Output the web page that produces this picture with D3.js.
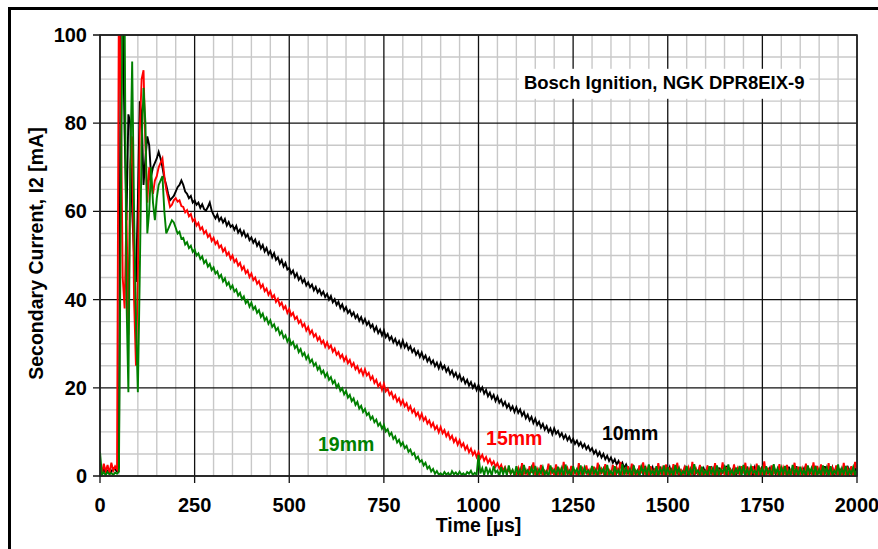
<!DOCTYPE html>
<html>
<head>
<meta charset="utf-8">
<script src="https://cdn.jsdelivr.net/npm/d3@7"></script>
<style>
  body { margin: 0; background: #fff; }
  svg text { font-family: "Liberation Sans", Arial, sans-serif; font-weight: bold; }
  .tick-label { font-size: 20px; fill: #000; }
  .axis-title { font-size: 19.5px; fill: #000; }
  .note { font-size: 18.5px; fill: #000; }
  .series-label { font-size: 19.5px; }
</style>
</head>
<body>
<div id="chart"></div>
<script>
// Secondary current vs. time, three spark-gap settings
// samples every 5 µs from 0 to 2000 µs

const sampleStep = 5; // µs between samples

const xTicks = [0, 250, 500, 750, 1000, 1250, 1500, 1750, 2000];
const yTicks = [0, 20, 40, 60, 80, 100];

const xTitle = "Time [µs]";
const yTitle = "Secondary Current, I2 [mA]";
const noteText = "Bosch Ignition, NGK DPR8EIX-9";

const seriesNames = ["10mm", "15mm", "19mm"];
const seriesColors = ["#000000", "#ff0000", "#008000"];
// where each trace label sits, in data units [time, current]
const labelAnchors = [[1326, 8.2], [1020, 7.0], [576, 5.6]];
const noteAnchor = [1120, 87.8];

const current10mm = [
  1,0.5,1.5,0.8,1.2,0.5,1,1.8,1.5,1,2,108,104,78,58,82,80,60,50,44,
  62,85,82,66,72,77,75,68,70,71,72,73.5,72,70,67.5,66,64,62.5,63,63.5,
  64.5,65.5,66,67,66,64.5,64,63,63.5,62,62.5,61.5,62,60.8,61.6,60.5,60.2,61,62,60.2,
  59.2,58.4,59.3,57.9,58.6,57.5,58.3,56.8,57.6,56.5,56.9,55.8,56.7,55.2,55.9,54.6,55.5,54.2,54.8,53.5,
  54.1,52.9,53.6,52.2,53,51.6,52.4,50.9,51.7,50.3,51,49.6,50.5,49,49.6,48.2,49,47.5,48.3,46.8,
  47.2,45.9,46.6,45.1,45.9,44.5,45.2,43.9,44.6,43.2,43.9,42.8,43.4,42.1,42.9,41.6,42.3,41.1,41.8,40.6,
  41.3,40,40.8,39.4,40.1,38.8,39.5,38.1,38.9,37.5,38.3,37,37.6,36.4,37.1,35.8,36.5,35.2,36,34.7,
  35.6,34.3,35,33.7,34.3,32.9,33.8,32.4,33.2,31.9,33,31.5,32.2,30.9,31.6,30.3,31.1,29.8,30.6,29.3,
  30.7,29.2,30,28.7,29.4,28.1,28.8,27.5,28.3,27,28,26.6,27.3,26,26.8,25.5,26.2,24.9,25.7,24.4,
  25.6,24.3,25,23.7,24.5,23.1,23.9,22.6,23.4,22.1,23,21.6,22.3,21,21.8,20.5,21.3,20,20.8,19.5,
  20.6,19.3,20.1,18.7,19.5,18.1,18.9,17.6,18.4,17,18,16.6,17.3,16,16.8,15.5,16.3,15,15.8,14.5,
  15.6,14.3,15.1,13.7,14.5,13.1,13.9,12.6,13.4,12,13,11.6,12.3,11,11.8,10.5,11.3,10,10.8,9.5,
  10.8,9.6,10.2,9,9.7,8.5,9.3,8.1,8.9,7.7,8.4,7.3,8,6.9,7.6,6.5,7.2,6.1,6.8,5.7,
  6.3,5.1,5.8,4.6,5.4,4.2,5,3.8,4.6,3.4,4.2,3,3.8,2.6,3.4,2.3,3,1.8,2.6,1.5,
  1.5,0.4,2,0.6,1.2,0.1,1.8,0.5,2.2,0.3,1,0.7,1.9,0.2,1.4,0,2.1,0.6,1.3,0.4,
  0.8,2,0.3,1.5,0.6,2.3,0.1,1.2,0.5,1.9,0,1.6,0.7,2.1,0.2,1.1,0.4,2.2,0.3,1.7,
  0.5,1.8,0.2,2.2,0.6,1.3,0,1.9,0.4,1.1,0.7,2.3,0.1,1.5,0.5,2,0.2,1.4,0.6,1.8,
  1.2,0.3,2.1,0.5,1.6,0,1.9,0.6,1.3,0.2,2.2,0.4,1.1,0.7,1.8,0.1,2.3,0.5,1.4,0,
  1.9,0.4,1.3,0.2,2.1,0.6,1.5,0,2.2,0.3,1.2,0.7,1.7,0.1,2,0.5,1.1,0.3,2.3,0.6,
  0.7,1.6,0.1,2.2,0.4,1.3,0.6,1.9,0,2.1,0.5,1.4,0.2,1.8,0.7,2.3,0.3,1.2,0.5,1.7,
  0.9
];

const current15mm = [
  2,0.5,2.8,1,2.5,0.6,3,1.2,2.2,1.5,112,85,45,38,60,32,70,77,40,25,
  45,78,90,92,75,62,70,66,64,67,68,70,71,72,68,65,63,61,61.5,62.5,
  63,62.2,62.5,61.2,61,59.8,60.3,58.9,59.4,57.8,58.3,56.8,57.4,55.9,56.4,55,55.6,54.2,54.8,53.3,
  54,52.6,53.2,51.8,52.3,50.9,51.6,50.1,50.7,49.2,50,48.5,49.1,47.7,48.3,46.8,47.5,46,46.6,45.1,
  45.9,44.4,45,43.6,44.2,42.7,43.4,41.9,42.5,41.1,41.9,40.4,41,39.5,40.2,38.7,39.3,37.9,38.5,37,
  37.9,36.4,37,35.6,36.1,34.7,35.3,33.9,34.5,33,33.8,32.3,33,31.6,32.2,30.8,31.5,30.1,30.7,29.3,
  30.3,29,29.6,28.2,28.9,27.5,28.1,26.8,27.5,26.1,27,25.6,26.3,24.9,25.6,24.2,24.9,23.5,24.2,22.9,
  24.2,22.8,23.4,21.9,22.6,21.1,21.8,20.3,21,19.5,20.9,19.2,19.8,18.4,19,17.6,18.3,16.9,17.6,16.2,
  17.2,15.8,16.5,15,15.8,14.4,15.1,13.7,14.4,13,14.1,12.6,13.3,11.9,12.6,11.2,12,10.6,11.3,9.9,
  11.1,9.7,10.4,9,9.8,8.4,9.1,7.7,8.5,7.1,8.1,6.7,7.4,6,6.8,5.4,6.2,4.8,5.6,4.3,
  5.4,4,4.8,3.5,4.3,3,3.8,2.6,3.3,2.1,2.9,1.7,2.5,1.2,2,0.8,1.6,0.5,1.3,0.4,
  0.3,1.8,0.1,2.9,0.5,1.4,0,2.2,0.7,3.1,0.2,1.6,0.4,2.5,0,1.2,0.6,2.8,0.3,1.9,
  0.1,2.6,0.4,1.5,0,3.2,0.6,1.8,0.2,2.3,0.5,1.1,0,2.9,0.3,1.7,0.7,2.4,0.1,1.4,
  0.5,2.1,0,3,0.3,1.6,0.6,2.7,0.1,1.3,0.4,2.5,0,1.9,0.7,3.2,0.2,1.5,0.5,2.2,
  0,2.8,0.4,1.2,0.1,2.4,0.6,3.1,0.3,1.7,0,2.2,0.5,1.4,0.2,2.9,0.6,1.8,0,2.6,
  0.4,1.5,0,2.7,0.2,3,0.5,1.3,0.1,2.3,0.6,1.9,0,3.2,0.3,1.6,0.4,2.5,0.1,1.2,
  0.2,2.4,0.6,1.7,0,2.9,0.3,1.4,0.5,3.1,0.1,2,0.4,1.3,0,2.6,0.7,1.8,0.2,2.2,
  0.6,3,0.1,1.6,0.4,2.2,0,2.8,0.3,1.5,0.5,3.3,0.2,1.9,0,2.4,0.6,1.2,0.3,2.7,
  0,1.9,0.5,2.5,0.2,1.3,0.6,3,0.1,2.1,0.4,1.7,0,2.8,0.3,1.4,0.5,3.1,0.2,2.3,
  0.4,2.6,0.1,1.5,0.6,2.9,0,1.8,0.3,2.4,0.5,1.2,0.2,3,0,1.7,0.6,2.2,0.1,3.2,
  1.5
];

const current19mm = [
  5.4,0.3,0.8,0.2,0.9,0.4,0.7,0.2,0.8,0.5,1,60,108,105,40,19,70,94,60,35,
  19,45,75,88,80,55,60,70,62,58,63,66,67,68,60,55,56,57,58,57.5,
  56.3,55,55.4,53.8,54,52.5,53,51.7,52.2,50.8,51.4,50,50.5,49.2,49.8,48.3,48.9,47.5,48.1,46.7,
  47.3,45.9,46.4,45,45.6,44.1,44.8,43.3,43.9,42.5,43.2,41.8,42.3,40.9,41.5,40.1,40.7,39.2,39.8,38.4,
  39.3,37.8,38.4,37,37.6,36.1,36.8,35.3,35.9,34.5,35.3,33.8,34.4,33,33.6,32.1,32.8,31.3,31.9,30.5,
  31.3,29.8,30.4,29,29.6,28.1,28.8,27.3,27.9,26.5,27.3,25.8,26.4,25,25.6,24.1,24.8,23.3,23.9,22.5,
  23.3,21.8,22.4,21,21.6,20.1,20.8,19.3,19.9,18.5,19.3,17.8,18.4,17,17.6,16.1,16.8,15.3,15.9,14.5,
  15.2,13.8,14.3,12.9,13.5,12.2,12.8,11.4,12,10.7,11.6,10.1,10.6,9.2,9.8,8.4,9,7.6,8.2,6.9,
  7.6,6.3,6.8,5.5,6,4.8,5.2,3.9,4.4,3.2,3.6,2.4,3,1.7,2.2,1,1.6,0.5,1.1,0.3,
  0.6,0.1,0.9,0.3,0.7,0,1.1,0.4,0.8,0.2,1,0.3,0.6,0.1,0.9,0.5,1.2,0.2,0.7,0.3,
  4.8,0.6,1.8,0.2,2.1,0.5,1.5,0.1,2.3,0.8,1.2,0,2,0.4,1.7,0.2,2.4,0.6,1.4,0.1,
  2.2,0.3,1.6,0,2.5,0.7,1.3,0.2,1.9,0.5,2.3,0.1,1.5,0.6,2,0.3,1.1,0,2.4,0.8,
  1.4,0.2,2.1,0.5,1.8,0,2.6,0.4,1.2,0.1,2.2,0.7,1.6,0.3,2.4,0,1.9,0.6,1.3,0.2,
  2.3,0.5,1.5,0.1,2,0.8,1.7,0,2.5,0.4,1.1,0.2,2.2,0.6,1.4,0,2.7,0.3,1.8,0.5,
  1.6,0,2.4,0.5,1.3,0.2,2.1,0.7,1.9,0.1,2.6,0.4,1.2,0.3,2.2,0,1.7,0.6,2.4,0.2,
  2,0.4,1.4,0,2.5,0.6,1.8,0.2,1.1,0.5,2.3,0,1.6,0.3,2.7,0.7,1.3,0.1,2.1,0.4,
  1.2,0.1,2.2,0.6,1.7,0,2.4,0.3,1.5,0.8,2,0.2,2.6,0.5,1.3,0,1.9,0.4,2.3,0.1,
  2.5,0.3,1.6,0.1,2.1,0.7,1.2,0,2.4,0.5,1.8,0.2,2.2,0.6,1.4,0,2.7,0.4,1.7,0.2,
  1.9,0.5,2.3,0,1.3,0.2,2.5,0.6,1.6,0.1,2.1,0.4,1.4,0,2.4,0.7,1.8,0.3,2.2,0.1,
  1.5,0.2,2.4,0.5,1.9,0,2.2,0.3,1.2,0.6,2.6,0.1,1.7,0.4,2.3,0,1.4,0.5,2,0.2,
  1.6
];

const seriesValues = [current10mm, current15mm, current19mm];

function drawChart() {
  const width = 878, height = 549;
  const margin = { top: 35, right: 21, bottom: 73, left: 100 };
  const plot_width  = width  - margin.left - margin.right;
  const plot_height = height - margin.top  - margin.bottom;

  const canvas = d3.select("#chart")
    .append("svg")
    .attr("width", width)
    .attr("height", height);

  canvas.append("rect")
    .attr("width", width).attr("height", height)
    .style("fill", "#fff");

  // outer frame (only left and top edges show in the picture)
  canvas.append("path")
    .attr("d", `M9.5,${height}V8.5H${width}`)
    .style("fill", "none")
    .style("stroke", "#000")
    .style("stroke-width", 3);

  const plot = canvas.append("g")
    .attr("transform", `translate(${margin.left},${margin.top})`);

  const xScale = d3.scaleLinear().domain([0, 2000]).range([0, plot_width]);
  const yScale = d3.scaleLinear().domain([0, 100]).range([plot_height, 0]);

  // GRID - minor every 50 µs / 5 mA, major on the ticks
  const minorX = d3.range(0, 2001, 50).filter(d => d % 250 !== 0);
  const minorY = d3.range(0, 101, 5).filter(d => d % 20 !== 0);

  plot.selectAll(".minor-x").data(minorX).join("line")
    .attr("x1", d => xScale(d)).attr("x2", d => xScale(d))
    .attr("y1", 0).attr("y2", plot_height)
    .style("stroke", "#c8c8c8").style("stroke-width", 1.4);

  plot.selectAll(".minor-y").data(minorY).join("line")
    .attr("y1", d => yScale(d)).attr("y2", d => yScale(d))
    .attr("x1", 0).attr("x2", plot_width)
    .style("stroke", "#c8c8c8").style("stroke-width", 1.4);

  plot.selectAll(".major-x").data(xTicks).join("line")
    .attr("x1", d => xScale(d)).attr("x2", d => xScale(d))
    .attr("y1", 0).attr("y2", plot_height + 7)
    .style("stroke", "#111").style("stroke-width", 1.3);

  plot.selectAll(".major-y").data(yTicks).join("line")
    .attr("y1", d => yScale(d)).attr("y2", d => yScale(d))
    .attr("x1", -7).attr("x2", plot_width)
    .style("stroke", "#111").style("stroke-width", 1.3);

  // TRACES
  plot.append("clipPath").attr("id", "plot-clip")
    .append("rect")
    .attr("width", plot_width).attr("height", plot_height);

  const lineGen = d3.line()
    .x((d, i) => xScale(i * sampleStep))
    .y(d => yScale(d));

  const traces = plot.append("g").attr("clip-path", "url(#plot-clip)");
  seriesValues.forEach((vals, k) => {
    traces.append("path")
      .datum(vals)
      .attr("d", lineGen)
      .style("fill", "none")
      .style("stroke", seriesColors[k])
      .style("stroke-width", 1.9)
      .style("stroke-linejoin", "miter");
  });

  // plot border
  plot.append("rect")
    .attr("width", plot_width).attr("height", plot_height)
    .style("fill", "none")
    .style("stroke", "#222")
    .style("stroke-width", 1.6);

  // TICK LABELS
  plot.selectAll(".x-label").data(xTicks).join("text")
    .attr("class", "tick-label")
    .attr("x", d => xScale(d))
    .attr("y", plot_height + 36)
    .attr("text-anchor", "middle")
    .text(d => d);

  plot.selectAll(".y-label").data(yTicks).join("text")
    .attr("class", "tick-label")
    .attr("x", -13)
    .attr("y", d => yScale(d) + 7)
    .attr("text-anchor", "end")
    .text(d => d);

  // AXIS TITLES
  plot.append("text")
    .attr("class", "axis-title")
    .attr("x", plot_width / 2)
    .attr("y", plot_height + 56)
    .attr("text-anchor", "middle")
    .text(xTitle);

  plot.append("text")
    .attr("class", "axis-title")
    .attr("transform", "rotate(-90)")
    .attr("x", -plot_height / 2 + 2)
    .attr("y", -57)
    .attr("text-anchor", "middle")
    .text(yTitle);

  // SERIES LABELS
  seriesNames.forEach((name, k) => {
    plot.append("text")
      .attr("class", "series-label")
      .attr("x", xScale(labelAnchors[k][0]))
      .attr("y", yScale(labelAnchors[k][1]))
      .style("fill", seriesColors[k])
      .text(name);
  });

  // NOTE BOX
  const noteG = plot.append("g");
  const noteBox = noteG.append("rect").style("fill", "#fff");
  const note = noteG.append("text")
    .attr("class", "note")
    .attr("x", xScale(noteAnchor[0]))
    .attr("y", yScale(noteAnchor[1]))
    .text(noteText);
  const bb = note.node().getBBox();
  noteBox
    .attr("x", bb.x - 5).attr("y", bb.y - 3)
    .attr("width", bb.width + 10).attr("height", bb.height + 9);
}

drawChart();
</script>
</body>
</html>
